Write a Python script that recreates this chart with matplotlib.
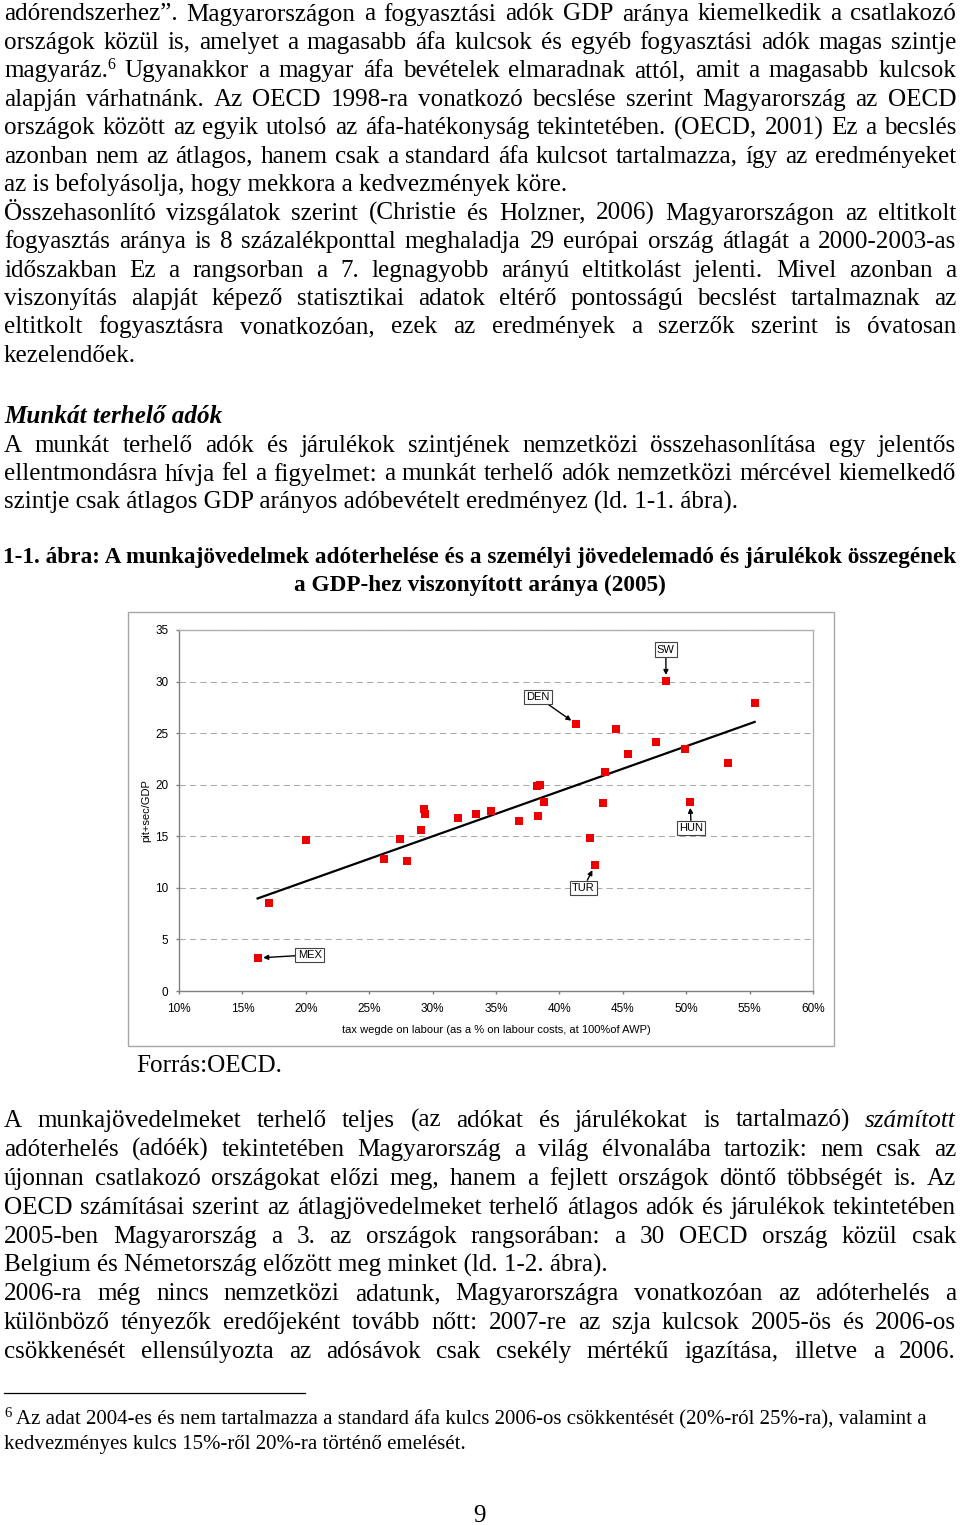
import numpy as np
import matplotlib
matplotlib.use('Agg')
import matplotlib.pyplot as plt
from matplotlib.patches import Rectangle
from matplotlib.lines import Line2D

# chart data: tax wedge on labour (%) vs pit+sec / GDP
tax_wedge = [16.2, 17.1, 20.0, 26.2, 27.4, 28.0, 29.1, 29.3, 29.4, 32.0,
             33.4, 34.6, 36.8, 38.2, 38.3, 38.5, 38.8, 41.3, 42.4, 42.8,
             43.4, 43.6, 44.5, 45.4, 47.6, 48.4, 49.9, 50.3, 53.3, 55.4]
pit_sec = [3.2, 8.5, 14.6, 12.8, 14.7, 12.6, 15.6, 17.6, 17.2, 16.8,
           17.2, 17.5, 16.5, 19.9, 17.0, 20.0, 18.3, 25.9, 14.8, 12.2,
           18.2, 21.2, 25.4, 23.0, 24.1, 30.1, 23.5, 18.3, 22.1, 27.9]
callout_names = ['MEX', 'TUR', 'HUN', 'DEN', 'SW']
callout_index = [0, 19, 27, 17, 25]
x_ticks = [10, 15, 20, 25, 30, 35, 40, 45, 50, 55, 60]
y_ticks = [0, 5, 10, 15, 20, 25, 30, 35]

# page text
para1 = [
    "adórendszerhez”. Magyarországon a fogyasztási adók GDP aránya kiemelkedik a csatlakozó",
    "országok közül is, amelyet a magasabb áfa kulcsok és egyéb fogyasztási adók magas szintje",
    "magyaráz.^6 Ugyanakkor a magyar áfa bevételek elmaradnak attól, amit a magasabb kulcsok",
    "alapján várhatnánk. Az OECD 1998-ra vonatkozó becslése szerint Magyarország az OECD",
    "országok között az egyik utolsó az áfa-hatékonyság tekintetében. (OECD, 2001) Ez a becslés",
    "azonban nem az átlagos, hanem csak a standard áfa kulcsot tartalmazza, így az eredményeket",
    "az is befolyásolja, hogy mekkora a kedvezmények köre.",
    "Összehasonlító vizsgálatok szerint (Christie és Holzner, 2006) Magyarországon az eltitkolt",
    "fogyasztás aránya is 8 százalékponttal meghaladja 29 európai ország átlagát a 2000-2003-as",
    "időszakban Ez a rangsorban a 7. legnagyobb arányú eltitkolást jelenti. Mivel azonban a",
    "viszonyítás alapját képező statisztikai adatok eltérő pontosságú becslést tartalmaznak az",
    "eltitkolt fogyasztásra vonatkozóan, ezek az eredmények a szerzők szerint is óvatosan",
    "kezelendőek.",
]
para1_last = [6, 12]
heading = "Munkát terhelő adók"
para2 = [
    "A munkát terhelő adók és járulékok szintjének nemzetközi összehasonlítása egy jelentős",
    "ellentmondásra hívja fel a figyelmet: a munkát terhelő adók nemzetközi mércével kiemelkedő",
    "szintje csak átlagos GDP arányos adóbevételt eredményez (ld. 1-1. ábra).",
]
caption = ["1-1. ábra: A munkajövedelmek adóterhelése és a személyi jövedelemadó és járulékok összegének",
           "a GDP-hez viszonyított aránya (2005)"]
para3 = [
    "A munkajövedelmeket terhelő teljes (az adókat és járulékokat is tartalmazó) _számított_",
    "adóterhelés (adóék) tekintetében Magyarország a világ élvonalába tartozik: nem csak az",
    "újonnan csatlakozó országokat előzi meg, hanem a fejlett országok döntő többségét is. Az",
    "OECD számításai szerint az átlagjövedelmeket terhelő átlagos adók és járulékok tekintetében",
    "2005-ben Magyarország a 3. az országok rangsorában: a 30 OECD ország közül csak",
    "Belgium és Németország előzött meg minket (ld. 1-2. ábra).",
    "2006-ra még nincs nemzetközi adatunk, Magyarországra vonatkozóan az adóterhelés a",
    "különböző tényezők eredőjeként tovább nőtt: 2007-re az szja kulcsok 2005-ös és 2006-os",
    "csökkenését ellensúlyozta az adósávok csak csekély mértékű igazítása, illetve a 2006.",
]
para3_last = [5]
footnote = ["Az adat 2004-es és nem tartalmazza a standard áfa kulcs 2006-os csökkentését (20%-ról 25%-ra), valamint a",
            "kedvezményes kulcs 15%-ről 20%-ra történő emelését."]

W, H = 960, 1525
SERIF = ['Liberation Serif', 'DejaVu Serif']
SANS = ['Liberation Sans', 'DejaVu Sans']
BODY = 18.1
SUP = 11.5
LEFT, RIGHT = 4, 956

fig = plt.figure(figsize=(W / 100, H / 100), dpi=100)
renderer = fig.canvas.get_renderer()


def fy(y):
    return 1 - y / H


def width(t):
    return t.get_window_extent(renderer).width


def put_line(y, text, justify=True, size=BODY):
    if not justify:
        fig.text(LEFT / W, fy(y), text.replace('_', ''), fontsize=size, family=SERIF,
                 va='baseline')
        return
    words = []
    for w in text.split(' '):
        st = 'normal'
        if w.startswith('_'):
            w = w.strip('_')
            st = 'italic'
        sup = None
        if '^' in w:
            w, s = w.split('^')
            sup = fig.text(0, fy(y - 8), s, fontsize=SUP, family=SERIF, va='baseline')
        t = fig.text(0, fy(y), w, fontsize=size, family=SERIF, style=st, va='baseline')
        words.append((t, sup))
    widths = [width(t) + (width(s) if s else 0) for t, s in words]
    gap = (RIGHT - LEFT - sum(widths)) / (len(words) - 1)
    x = LEFT
    for (t, s), w in zip(words, widths):
        t.set_x(x / W)
        if s:
            s.set_x((x + width(t)) / W)
        x += w + gap


y = 20.5
for i, line in enumerate(para1):
    put_line(y + i * 28.45, line, justify=i not in para1_last)

fig.text(LEFT / W, fy(423), heading, fontsize=BODY, family=SERIF, weight='bold',
         style='italic', va='baseline')
for i, line in enumerate(para2):
    put_line(452 + i * 28.5, line, justify=i != len(para2) - 1)

cap = [fig.text(480 / W, fy(563 + i * 27.5), line, fontsize=BODY, family=SERIF,
                weight='bold', ha='center', va='baseline') for i, line in enumerate(caption)]
cap_size = BODY * 950 / width(cap[0])
for t in cap:
    t.set_fontsize(cap_size)

fig.text(136 / W, fy(1072), "Forrás:OECD.", fontsize=BODY, family=SERIF, va='baseline')

for i, line in enumerate(para3):
    put_line(1127 + i * 28.9, line, justify=i not in para3_last)

fig.add_artist(Line2D([4 / W, 305 / W], [fy(1393), fy(1393)], color='black', lw=0.9))
fig.text(4 / W, fy(1417), "6", fontsize=10.5, family=SERIF, va='baseline')
fig.text(16 / W, fy(1424), footnote[0], fontsize=15, family=SERIF, va='baseline')
fig.text(4 / W, fy(1449), footnote[1], fontsize=15, family=SERIF, va='baseline')
fig.text(480 / W, fy(1522), "9", fontsize=BODY, family=SERIF, ha='center', va='baseline')

# chart frame
fig.add_artist(Rectangle((128 / W, fy(1046)), (834 - 128) / W, (1046 - 612) / H,
                         transform=fig.transFigure, fill=False, ec='#a6a6a6', lw=1))

ax = fig.add_axes([179 / W, fy(991), (813 - 179) / W, (991 - 630) / H])
ax.set_xlim(10, 60)
ax.set_ylim(0, 35)
ax.set_xticks(x_ticks)
ax.set_xticklabels([f"{v}%" for v in x_ticks])
ax.set_yticks(y_ticks)
for s in ['top', 'right']:
    ax.spines[s].set_color('#b0b0b0')
for s in ['left', 'bottom']:
    ax.spines[s].set_color('#808080')
for s in ax.spines.values():
    s.set_linewidth(1)
ax.tick_params(axis='both', labelsize=8.5, colors='#808080', labelcolor='black',
               length=2.5, width=1, pad=5)
ax.tick_params(axis='x', pad=6.5)
for lab in ax.get_xticklabels() + ax.get_yticklabels():
    lab.set_family(SANS)
ax.grid(axis='y', color='#aaaaaa', linestyle=(0, (6, 4)), lw=0.75)
ax.set_axisbelow(True)

ax.set_xlabel("tax wegde on labour (as a % on labour costs, at 100%of AWP)",
              fontsize=8, family=SANS, labelpad=6.5)
ax.set_ylabel("pit+sec/GDP", fontsize=8, family=SANS, labelpad=3)

xs = np.array(tax_wedge)
ys = np.array(pit_sec)
slope, icpt = np.polyfit(xs, ys, 1)
xl = np.array([xs.min(), xs.max()])
ax.plot(xl, slope * xl + icpt, color='black', lw=1.6, zorder=3)
ax.plot(xs, ys, 's', color='#ee0000', ms=6.3, mew=0, zorder=4)

label_xy = {'MEX': (20.3, 3.5), 'TUR': (41.9, 10.0), 'HUN': (50.4, 15.8),
            'DEN': (38.3, 28.5), 'SW': (48.4, 33.1)}
for name, idx in zip(callout_names, callout_index):
    ax.annotate(name, xy=(tax_wedge[idx], pit_sec[idx]), xytext=label_xy[name],
                fontsize=8, family=SANS, ha='center', va='center', zorder=5,
                bbox=dict(boxstyle='square,pad=0.2', fc='white', ec='#444444', lw=0.8),
                arrowprops=dict(arrowstyle='-|>', color='black', lw=1,
                                mutation_scale=7, shrinkA=0, shrinkB=4))

fig.savefig('out.png', dpi=100)
